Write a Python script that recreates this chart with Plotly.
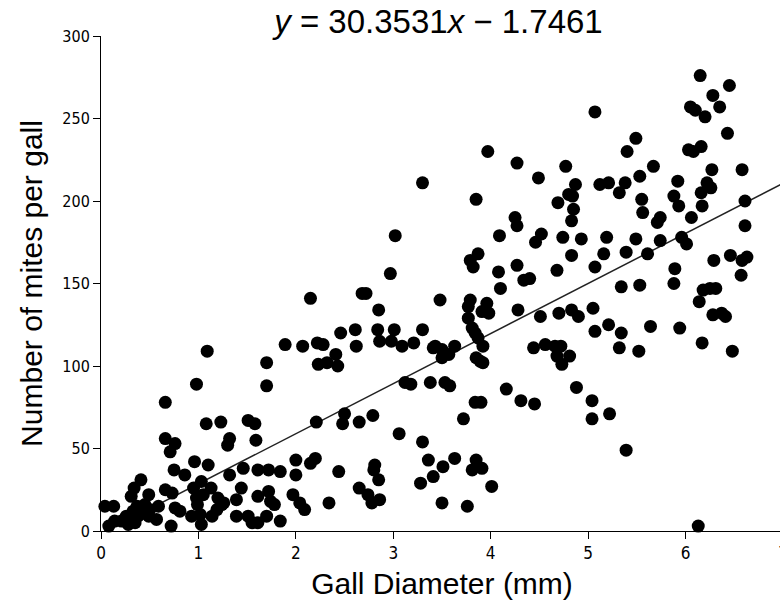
import plotly.graph_objects as go

# Gall diameter (mm) and number of mites per gall
gall_diameter = [
    6.15, 6.45, 6.28, 6.05, 6.10, 6.35, 6.20, 5.07, 6.43, 5.49, 5.40, 6.03, 6.08, 6.16,
    4.27, 4.77, 5.67, 4.49, 6.58, 6.27, 4.87, 4.80, 4.84, 4.69, 4.85, 4.83, 5.12, 5.21,
    5.38, 5.32, 5.53, 5.55, 5.56, 5.74, 5.71, 5.92, 5.88, 5.93, 6.22, 6.26, 6.16, 6.17,
    6.06, 6.61, 6.61, 4.25, 4.27, 4.52, 4.74, 4.93, 5.19, 5.49, 5.74, 5.96, 3.97, 3.30,
    3.85, 3.02, 4.09, 4.46, 6.01,
    2.97, 2.15, 2.68, 2.72, 2.85, 3.48, 2.46, 2.61, 2.84, 3.01, 3.30, 2.62, 2.86, 2.98,
    3.09, 3.21, 3.41, 1.89, 2.07, 2.22, 2.28, 2.41, 2.43, 2.23, 2.32, 1.70, 1.70, 3.12,
    3.18, 3.38, 1.09, 0.98,
    0.66, 1.08, 1.23, 1.51, 1.58, 0.66, 0.76, 0.71, 1.32, 1.30, 1.59, 0.96, 1.10, 0.75,
    0.86, 0.41, 1.32, 1.46, 1.61, 1.72, 1.03, 0.95, 1.13, 0.34, 0.31, 0.49, 0.66, 0.73,
    1.44, 1.61, 1.72, 0.04, 0.13, 0.37, 0.45, 0.59, 0.98, 0.99, 1.05, 1.20, 1.24, 1.39,
    0.76, 0.81, 0.08, 0.14, 0.21, 0.28, 0.26, 0.35, 0.38, 0.33, 0.43, 0.50, 0.49, 0.57,
    0.72, 0.93, 1.02, 1.03, 1.14, 1.19, 1.26, 1.39, 1.51, 1.55, 1.61, 1.70,
    2.21, 2.50, 2.48, 2.65, 2.79, 3.06, 3.30, 2.00, 2.00, 2.15, 2.20, 1.84, 2.44, 2.81,
    2.80, 2.85, 3.36, 3.41, 3.28, 1.97, 1.74, 1.78, 2.04, 2.09, 2.34, 2.65, 2.74, 2.78,
    2.86, 1.84,
    3.53, 3.58, 4.16, 4.88, 3.84, 3.90, 4.31, 4.45, 5.04, 5.04, 3.72, 3.51, 3.63, 3.85,
    3.81, 3.91, 4.01, 3.50, 3.76, 5.22, 5.39, 6.13,
    4.83, 5.07, 3.87, 3.79, 3.82, 4.27, 4.08, 4.68, 4.34, 4.40, 4.10, 3.79, 3.77, 3.96,
    3.91, 3.98, 3.77, 4.28, 4.51, 4.70, 4.83, 4.90, 5.05, 5.07, 3.81, 3.84, 3.87, 3.92,
    3.43, 3.50, 3.57, 3.50, 3.63, 3.85, 3.89, 3.92, 4.44, 4.56, 4.66, 4.72, 4.68, 4.73,
    4.81,
    5.16, 5.39, 5.61, 6.29, 6.46, 6.58, 6.63, 6.57, 5.89, 5.88, 5.34, 5.53, 6.18, 6.25,
    6.31, 6.14, 6.28, 6.37, 6.41, 5.21, 5.34, 5.64, 5.94, 5.32, 5.52, 6.17, 6.48,
]
mites_per_gall = [
    276, 270, 264, 257, 255, 257, 251, 254, 241, 238, 230, 231, 230, 233,
    223, 221, 221, 214, 219, 219, 210, 204, 203, 199, 195, 188, 210, 211,
    211, 205, 215, 201, 193, 190, 187, 212, 203, 197, 211, 208, 205, 197,
    190, 200, 185, 190, 185, 180, 178, 177, 178, 177, 176, 178, 230, 211,
    201, 179, 179, 175, 174,
    156, 141, 144, 144, 134, 140, 120, 122, 122, 122, 122, 112, 115, 115,
    112, 114, 111, 113, 112, 114, 113, 107, 100, 101, 102, 102, 88, 90,
    89, 90, 109, 89,
    78, 65, 66, 67, 65, 56, 53, 48, 56, 52, 55, 42, 40, 37,
    34, 31, 34, 38, 37, 37, 30, 26, 26, 26, 21, 22, 25, 23,
    26, 21, 24, 15, 15, 15, 16, 15, 20, 16, 22, 20, 16, 19,
    14, 12, 3, 6, 6, 4, 9, 5, 9, 12, 11, 13, 9, 7,
    3, 9, 10, 4, 9, 13, 17, 9, 9, 5, 5, 9,
    66, 71, 65, 66, 70, 59, 54, 43, 34, 41, 44, 36, 36, 40,
    37, 31, 43, 33, 29, 22, 18, 16, 17, 13, 17, 26, 22, 17,
    19, 6,
    90, 88, 86, 87, 78, 78, 79, 77, 79, 68, 68, 39, 44, 43,
    37, 38, 27, 17, 15, 71, 49, 3,
    167, 160, 168, 164, 160, 161, 157, 158, 152, 153, 147, 140, 136, 138,
    133, 132, 129, 134, 130, 132, 134, 130, 135, 121, 123, 120, 117, 112,
    112, 110, 107, 105, 112, 105, 103, 102, 111, 113, 112, 112, 106, 101,
    106,
    168, 169, 168, 164, 167, 164, 166, 155, 159, 150, 148, 149, 146, 147,
    147, 139, 131, 132, 130, 125, 120, 124, 123, 111, 109, 114, 109,
]

# Regression coefficients shown in the title
slope = 30.3531
intercept = -1.7461

x_ticks = [0, 1, 2, 3, 4, 5, 6, 7]
y_ticks = [0, 50, 100, 150, 200, 250, 300]

line_x = [min(gall_diameter), 7]
line_y = [slope * v + intercept for v in line_x]

narrow = "DejaVu Sans Condensed, Liberation Sans Narrow, Arial Narrow, Liberation Sans, Arial, sans-serif"
regular = "Liberation Sans, Arial, sans-serif"

fig = go.Figure()
fig.add_trace(go.Scatter(
    x=line_x, y=line_y, mode="lines",
    line=dict(color="#222222", width=1.5),
    hoverinfo="skip", showlegend=False,
))
fig.add_trace(go.Scatter(
    x=gall_diameter, y=mites_per_gall, mode="markers",
    marker=dict(color="black", size=13, line=dict(width=0)),
    cliponaxis=False, showlegend=False,
))

fig.update_layout(
    width=783, height=605,
    margin=dict(l=101, r=0, t=36, b=74),
    paper_bgcolor="white", plot_bgcolor="white",
    title=dict(
        text="<i>y</i> = 30.3531<i>x</i> \u2212 1.7461",
        x=0.56, xanchor="center", y=0.964, yanchor="middle",
        font=dict(family=regular, size=33, color="black"),
    ),
    xaxis=dict(
        range=[0, 7], tickvals=x_ticks, ticktext=[str(v) for v in x_ticks],
        showline=True, linecolor="black", linewidth=1,
        ticks="outside", ticklen=7, tickcolor="black", tickwidth=1,
        showgrid=False, zeroline=False,
        tickfont=dict(family=narrow, size=17, color="black"),
        ticklabeloverflow="allow",
        title=dict(text="Gall Diameter (mm)", standoff=10,
                   font=dict(family=regular, size=30, color="black")),
        automargin=False,
    ),
    yaxis=dict(
        range=[0, 300], tickvals=y_ticks, ticktext=[str(v) for v in y_ticks],
        showline=True, linecolor="black", linewidth=1,
        ticks="outside", ticklen=7, tickcolor="black", tickwidth=1,
        showgrid=False, zeroline=False,
        tickfont=dict(family=narrow, size=16, color="black"),
        title=dict(text="Number of mites per gall", standoff=10,
                   font=dict(family=regular, size=30, color="black")),
        automargin=False,
    ),
)

fig.write_html(
    "out.html",
    config={"displayModeBar": False},
    post_script="document.body.style.margin='0';document.body.style.overflow='hidden';",
)
